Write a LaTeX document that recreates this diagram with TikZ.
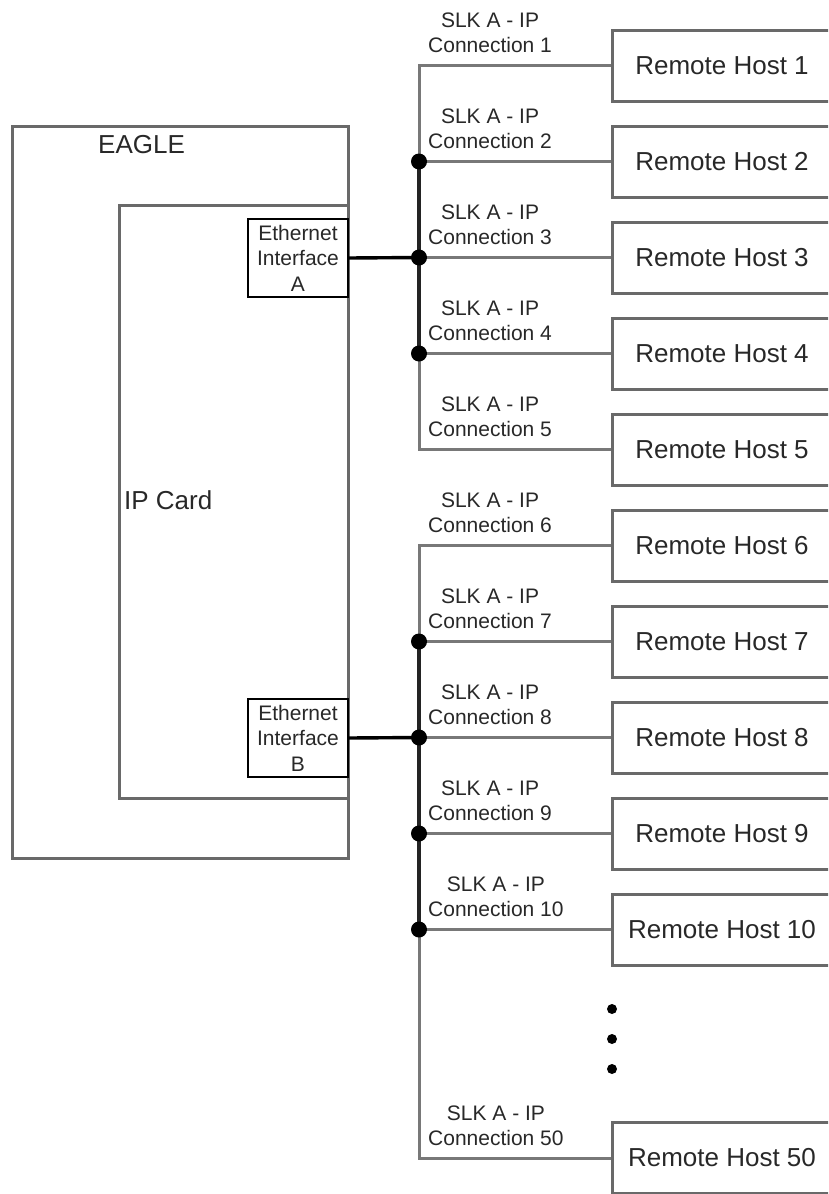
\documentclass[tikz,border=0pt]{standalone}
\usepackage{fontspec}
\setmainfont{Liberation Sans}
\usepackage{tikz}
\usetikzlibrary{calc}
\usetikzlibrary{positioning}
\definecolor{boxgray}{RGB}{105,105,105}
\definecolor{busgray}{RGB}{120,120,120}
\definecolor{busdark}{RGB}{35,35,35}
\definecolor{txt}{RGB}{40,40,40}
\tikzstyle{host} = [rectangle, draw = boxgray, line width = 3pt, minimum width = 220pt, minimum height = 71pt, inner sep = 0, font = \fontsize{26}{30}\selectfont, text = txt]
\tikzstyle{eth} = [rectangle, draw = black, line width = 1.6pt, minimum width = 100pt, minimum height = 78pt, inner sep = 0, align = center, font = \fontsize{21}{25.5}\selectfont, text = txt]
\tikzstyle{conn} = [anchor = south west, inner sep = 0, align = center, font = \fontsize{21}{25}\selectfont, text = txt]
\tikzstyle{title} = [anchor = west, inner sep = 0, font = \fontsize{26}{30}\selectfont, text = txt]
\tikzstyle{link} = [draw = busgray, line width = 3pt]
\tikzstyle{trunk} = [draw = busdark, line width = 3.4pt]
\tikzstyle{junc} = [circle, fill = black, inner sep = 0, minimum size = 16pt]

\begin{document}
\begin{tikzpicture}[x = 1pt, y = -1pt]
\useasboundingbox (0, 0) rectangle (828, 1194);
\clip (0, 0) rectangle (828, 1194);
% EAGLE and IP card
\draw [draw = boxgray, line width = 3pt] (12, 126) rectangle (348, 858);
\draw [draw = boxgray, line width = 3pt] (119, 205) rectangle (348, 798);
\node [title] (EL) at (98, 145) {EAGLE};
\node [title] (CL) at (124, 500) {IP Card};
\node [eth] (IA) at (298, 258) {Ethernet\\Interface\\A};
\node [eth] (IB) at (298, 738) {Ethernet\\Interface\\B};
% remote hosts
\foreach \i in {1,...,10} {
  \node [host] (H\i) at (722, {65.5 + 96*(\i - 1)}) {Remote Host \i};
  \coordinate (P\i) at (419, {65.5 + 96*(\i - 1)});
  \node [conn] (S\i) at ($(P\i) + (9, -12.5)$) {SLK A - IP\\Connection \i};
}
\node [host] (H50) at (722, 1158) {Remote Host 50};
\coordinate (P50) at (419, 1158);
\node [conn] (S50) at ($(P50) + (9, -12.5)$) {SLK A - IP\\Connection 50};
% connections
\draw [link] (H1.west) -- (P1) -- (P5) -- (H5.west);
\draw [link] (H6.west) -- (P6) -- (P50) -- (H50.west);
\foreach \i in {2,3,4,7,8,9,10} \draw [link] (P\i) -- (H\i.west);
\draw [trunk] (P2) -- (P4);
\draw [trunk] (P7) -- (P10);
\draw [draw = black, line width = 3.4pt] (IA.east) -- (P3);
\draw [draw = black, line width = 3.4pt] (IB.east) -- (P8);
\foreach \i in {2,3,4,7,8,9,10} \node [junc] (J\i) at (P\i) {};
%\node [draw = none] at (612, 1040) {$\vdots$};
\foreach \k in {0,1,2} \node [circle, fill = black, inner sep = 0, minimum size = 10pt] (D\k) at (612, {1009 + 30*\k}) {};
\end{tikzpicture}
\end{document}
